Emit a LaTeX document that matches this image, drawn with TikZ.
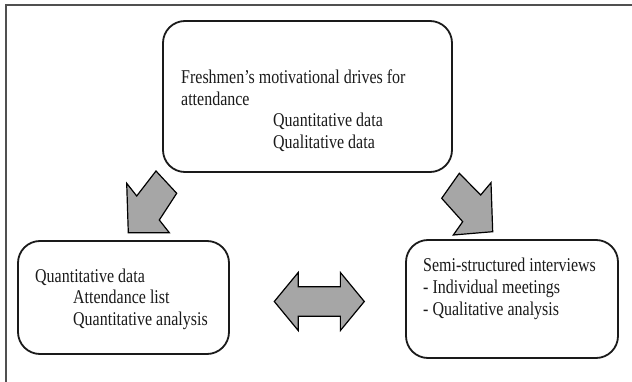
\documentclass[tikz,border=0pt]{standalone}
\usepackage{fontspec}
\setmainfont{Liberation Serif}[FakeStretch=0.82]
\usetikzlibrary{shapes.arrows}
\definecolor{arrowgray}{HTML}{A6A6A6}
\definecolor{framec}{HTML}{505050}
\definecolor{ink}{HTML}{1A1A1A}
\begin{document}
\begin{tikzpicture}[x=1pt,y=-1pt,
  box/.style={draw=ink, line width=1.8pt, rounded corners=22pt, fill=white, inner sep=0pt},
  txt/.style={anchor=base west, inner sep=0pt, text=ink, font=\fontsize{19.5}{21.5}\selectfont},
  blk/.style={draw=black, line width=1.2pt, fill=arrowgray, line join=miter},
  ]
\useasboundingbox (0,0) rectangle (632,382);
\fill[white] (0,0) rectangle (632,382);
% page frame (top and left rules)
\draw[framec, line width=1.3pt] (6,382) -- (6,5) -- (632,5);

% boxes
\node[box, minimum width=289pt, minimum height=151pt] (top) at (307.5,96.5) {};
\node[box, minimum width=211pt, minimum height=113pt] (left) at (123.5,297.5) {};
\node[box, minimum width=212pt, minimum height=118pt] (right) at (512,299) {};

% texts
\node[txt] (t1) at (181,84) {Freshmen’s motivational drives for};
\node[txt] (t2) at (181,105.5) {attendance};
\node[txt] (t3) at (273,127) {Quantitative data};
\node[txt] (t4) at (273,148.5) {Qualitative data};
\node[txt] (l1) at (35,282) {Quantitative data};
\node[txt] (l2) at (73,303.5) {Attendance list};
\node[txt] (l3) at (73,325) {Quantitative analysis};
\node[txt] (r1) at (423,272) {Semi-structured interviews};
\node[txt] (r2) at (423,293.5) {- Individual meetings};
\node[txt] (r3) at (423,315) {- Qualitative analysis};

% block arrow from the top box down to the left box
\draw[blk] (156,171) -- (176.7,193.3) -- (159.3,220) -- (169.3,232.7)
  -- (128.3,232.7) -- (126.7,183.3) -- (136.7,196) -- cycle;
% block arrow from the top box down to the right box
\draw[blk] (459.3,173.3) -- (480.7,195) -- (491,182.7) -- (492.7,231.7)
  -- (453.3,235) -- (462.7,221.7) -- (441.7,198.3) -- cycle;
% two-way arrow between the lower boxes
\node[blk, double arrow, double arrow head extend=14.2pt, inner xsep=0pt, inner ysep=14.2pt,
      minimum width=0pt, minimum height=90pt, double arrow tip angle=101] (aD) at (319.3,301.5) {};
\end{tikzpicture}
\end{document}
